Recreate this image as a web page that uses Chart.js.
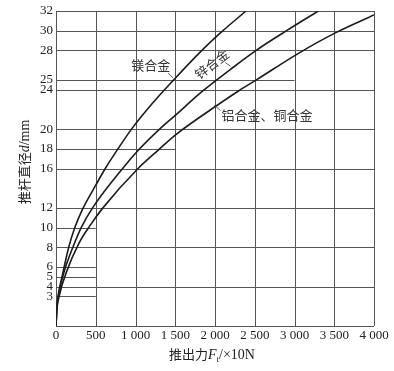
<!DOCTYPE html>
<html>
<head>
<meta charset="utf-8">
<script src="https://cdn.jsdelivr.net/npm/chart.js@4"></script>
<style>
html,body{margin:0;padding:0;background:#fff;}
#wrap{width:394px;height:371px;position:relative;}
</style>
</head>
<body>
<div id="wrap"><canvas id="c"></canvas></div>
<script>
// ---- data ----
const forceTicks = [0, 500, 1000, 1500, 2000, 2500, 3000, 3500, 4000];
const forceTickLabels = ['0', '500', '1 000', '1 500', '2 000', '2 500', '3 000', '3 500', '4 000'];
const diameterTicks = [3, 4, 5, 6, 8, 10, 12, 16, 18, 20, 24, 25, 28, 30, 32];
const diameterGridEnd = [500, 4000, 500, 500, 4000, 500, 4000, 4000, 1500, 4000, 4000, 3000, 4000, 4000, 4000];

const seriesNames = ['镁合金', '锌合金', '铝合金、铜合金'];
const magnesiumF = [0, 8, 25, 76, 160, 237, 330, 500, 620, 780, 950, 1200, 1480, 1810, 2100, 2390];
const magnesiumD = [0, 1.6, 3, 5, 8, 10, 11.8, 14.3, 16, 18, 20, 22.5, 25, 27.8, 30, 32];
const zincF = [0, 10, 35, 98, 212, 317, 460, 838, 1040, 1290, 1500, 1850, 2200, 2500, 2900, 3300];
const zincD = [0, 1.7, 3.2, 5.4, 8, 10, 12, 16, 17.9, 19.9, 21.4, 23.9, 26.1, 27.9, 30, 32];
const aluCopperF = [0, 12, 45, 132, 288, 436, 590, 1020, 1290, 1500, 2060, 2300, 2520, 3050, 3520, 4000];
const aluCopperD = [0, 1.7, 3.2, 5.5, 8.4, 10.3, 12, 15.9, 17.9, 19.4, 22.6, 23.9, 25, 27.7, 29.8, 31.6];

const xTitleParts = ['推出力', 'F', 't', '/×10N'];
const yTitleParts = ['推杆直径', 'd', '/mm'];

// ---- helpers ----
const pts = (xs, ys) => xs.map((x, i) => ({x: x, y: ys[i]}));
const SERIF = '"Liberation Serif", "DejaVu Serif", serif';
const CJK = '"Noto Sans CJK SC", "Noto Sans", sans-serif';
const INK = '#222';

const gridPlugin = {
  id: 'partialGrid',
  beforeDatasetsDraw(chart) {
    const {ctx, scales: {x, y}} = chart;
    ctx.save();
    ctx.strokeStyle = '#555';
    ctx.lineWidth = 1;
    ctx.beginPath();
    forceTicks.forEach(v => {
      const px = Math.round(x.getPixelForValue(v)) + 0.5;
      ctx.moveTo(px, y.getPixelForValue(0));
      ctx.lineTo(px, y.getPixelForValue(32));
    });
    const yb = Math.round(y.getPixelForValue(0)) + 0.5;
    ctx.moveTo(x.getPixelForValue(0), yb);
    ctx.lineTo(x.getPixelForValue(4000), yb);
    diameterTicks.forEach((v, i) => {
      const py = Math.round(y.getPixelForValue(v)) + 0.5;
      ctx.moveTo(x.getPixelForValue(0), py);
      ctx.lineTo(x.getPixelForValue(diameterGridEnd[i]), py);
    });
    ctx.stroke();
    ctx.restore();
  },
  afterDatasetsDraw(chart) {
    const {ctx, scales: {x, y}} = chart;
    const P = (f, d) => [x.getPixelForValue(f), y.getPixelForValue(d)];
    ctx.save();
    ctx.fillStyle = '#333';
    ctx.strokeStyle = '#333';
    ctx.lineWidth = 0.8;
    ctx.font = '13px ' + CJK;
    ctx.textBaseline = 'middle';
    // 镁合金
    let p = P(1193, 26.5);
    ctx.textAlign = 'center';
    ctx.fillText(seriesNames[0], p[0], p[1]);
    let a = P(1410, 25.7), b = P(1473, 25.2);
    ctx.beginPath(); ctx.moveTo(a[0], a[1]); ctx.lineTo(b[0], b[1]); ctx.stroke();
    // 锌合金 (rotated)
    p = P(1959, 26.6);
    ctx.save();
    ctx.translate(p[0], p[1]);
    ctx.rotate(-38 * Math.PI / 180);
    ctx.fillText(seriesNames[1], 0, 0);
    ctx.restore();
    a = P(2131, 26.75); b = P(2194, 26.4);
    ctx.beginPath(); ctx.moveTo(a[0], a[1]); ctx.lineTo(b[0], b[1]); ctx.stroke();
    // 铝合金、铜合金
    p = P(2069, 21.4);
    ctx.textAlign = 'left';
    ctx.fillText(seriesNames[2], p[0] + 1, p[1]);
    a = P(1993, 22.4); b = P(2069, 21.9);
    ctx.beginPath(); ctx.moveTo(a[0], a[1]); ctx.lineTo(b[0], b[1]); ctx.stroke();
    ctx.restore();
  },
  afterDraw(chart) {
    const {ctx, scales: {x, y}} = chart;
    ctx.save();
    ctx.fillStyle = INK;
    ctx.textBaseline = 'alphabetic';
    ctx.textAlign = 'left';
    // x title
    const fCJK = '13px ' + CJK, fIt = 'italic 14px ' + SERIF, fSub = '9px ' + SERIF, fNum = '14px ' + SERIF;
    const parts = [[xTitleParts[0], fCJK, 0], [xTitleParts[1], fIt, 0], [xTitleParts[2], fSub, 3], [xTitleParts[3], fNum, 0]];
    let w = 0;
    parts.forEach(q => { ctx.font = q[1]; w += ctx.measureText(q[0]).width; });
    let cx = (x.left + x.right) / 2 - 3 - w / 2;
    const base = 359;
    parts.forEach(q => { ctx.font = q[1]; ctx.fillText(q[0], cx, base + q[2]); cx += ctx.measureText(q[0]).width; });
    // y title
    const yparts = [[yTitleParts[0], fCJK], [yTitleParts[1], fIt], [yTitleParts[2], fNum]];
    w = 0;
    yparts.forEach(q => { ctx.font = q[1]; w += ctx.measureText(q[0]).width; });
    ctx.translate(29, 162);
    ctx.rotate(-Math.PI / 2);
    cx = -w / 2;
    yparts.forEach(q => { ctx.font = q[1]; ctx.fillText(q[0], cx, 0); cx += ctx.measureText(q[0]).width; });
    ctx.restore();
  }
};

const lineStyle = {borderColor: '#1c1c1c', borderWidth: 1.6, pointRadius: 0, fill: false, cubicInterpolationMode: 'monotone'};

new Chart(document.getElementById('c'), {
  type: 'line',
  data: {
    datasets: [
      Object.assign({label: seriesNames[0], data: pts(magnesiumF, magnesiumD)}, lineStyle),
      Object.assign({label: seriesNames[1], data: pts(zincF, zincD)}, lineStyle),
      Object.assign({label: seriesNames[2], data: pts(aluCopperF, aluCopperD)}, lineStyle)
    ]
  },
  options: {
    responsive: true,
    maintainAspectRatio: false,
    animation: false,
    events: [],
    layout: {padding: {top: 11, right: 20, left: 0, bottom: 0}},
    plugins: {legend: {display: false}, tooltip: {enabled: false}},
    scales: {
      x: {
        type: 'linear', min: 0, max: 4000,
        border: {display: false},
        grid: {display: false, drawTicks: false},
        afterFit: s => { s.height = 45; },
        afterBuildTicks: s => { s.ticks = forceTicks.map(v => ({value: v})); },
        ticks: {
          padding: 2, maxRotation: 0, autoSkip: false, color: INK,
          font: {family: SERIF, size: 13},
          callback: (v) => forceTickLabels[forceTicks.indexOf(v)]
        }
      },
      y: {
        type: 'linear', min: 0, max: 32,
        border: {display: false},
        grid: {display: false, drawTicks: false},
        afterFit: s => { s.width = 56; },
        afterBuildTicks: s => { s.ticks = diameterTicks.map(v => ({value: v})); },
        ticks: {
          padding: 3, autoSkip: false, color: INK,
          font: {family: SERIF, size: 13},
          callback: v => String(v)
        }
      }
    }
  },
  plugins: [gridPlugin]
});
</script>
</body>
</html>
